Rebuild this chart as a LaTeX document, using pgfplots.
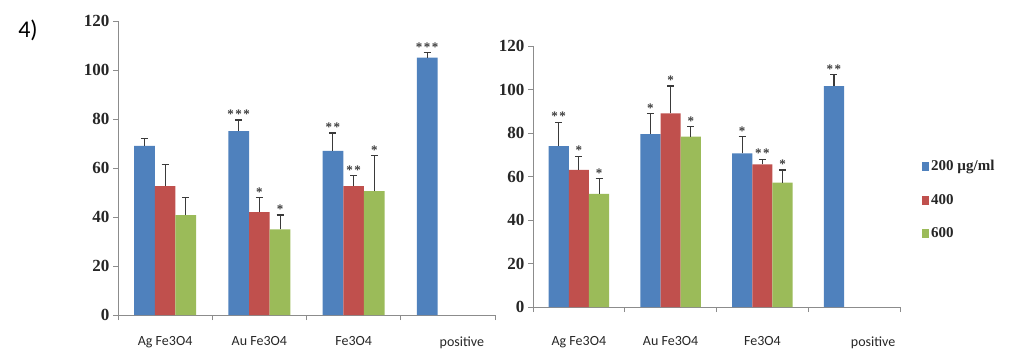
\documentclass[border=0pt]{standalone}
\usepackage{fontspec}
\setmainfont{Liberation Serif}
\newfontfamily\calfont{Carlito}
\usepackage{pgfplots}
\usepackage{pgfplotstable}
\pgfplotsset{compat=1.18}
\definecolor{cb}{HTML}{4F81BD}
\definecolor{cr}{HTML}{C0504D}
\definecolor{cg}{HTML}{9BBB59}
\definecolor{axg}{HTML}{8C8C8C}
\definecolor{errc}{HTML}{3A3A3A}
\definecolor{txt}{HTML}{262626}

\newcommand{\stA}{*}
\newcommand{\stB}{*\kern1.5pt*}
\newcommand{\stC}{*\kern1.5pt*\kern1.5pt*}

\pgfplotstableread{
x b be r re g ge
0 69 3.2 52.6 8.9 40.8 7.2
1 75 4.6 42 5.8 35 5.8
2 67 7.3 52.6 4.4 50.6 14.4
3 105 2 nan nan nan nan
}\leftdata

\pgfplotstableread{
x b be r re g ge
0 74 11 63 6.4 52 7
1 79.5 9.5 89 12.6 78.3 4.7
2 70.6 7.7 65.6 2.4 57.2 5.8
3 101.6 5.1 nan nan nan nan
}\rightdata

\pgfplotsset{
 excel/.style={
  scale only axis, ymin=0, ymax=120, ytick={0,20,...,120},
  xmin=-0.5, xmax=3.5, xtick={0,1,2,3},
  axis x line*=bottom, axis y line*=left,
  axis line style={axg, line width=0.8pt, -},
  major x tick style={draw=none},
  minor xtick={-0.5,0.5,1.5,2.5,3.5},
  minor x tick style={axg, line width=0.8pt},
  minor tick length=5pt,
  major tick length=5pt,
  y tick style={axg, line width=0.8pt},
  tick align=outside,
  /pgf/number format/assume math mode=true,
  yticklabel style={font=\bfseries\fontsize{17}{17}\selectfont, text=txt},
  xticklabel style={font=\calfont\fontsize{14}{14}\selectfont, text=txt},
  clip=false,
 },
 barb/.style={ybar, bar width=0.22, bar shift=0, draw=none,
   error bars/y dir=plus, error bars/y explicit,
   error bars/error bar style={errc, line width=1.1pt},
   error bars/error mark options={rotate=90, errc, mark size=3.5pt, line width=1.1pt}},
 lg/.style={legend image code/.code={\fill[##1] (0pt,-4.5pt) rectangle (7pt,4.5pt);}},
 stars/.style={draw=none, mark=none, forget plot, nodes near coords, point meta=explicit symbolic,
   nodes near coords style={anchor=south, inner sep=0pt, yshift=1pt, text=errc, font=\bfseries\fontsize{13}{13}\selectfont}},
}

\begin{document}
\begin{tikzpicture}
\useasboundingbox (0,0) rectangle (1019pt,351pt);
\node[font=\calfont\fontsize{24}{24}\selectfont] at (28pt,321pt) {4)};

\begin{axis}[excel, at={(118pt,36pt)}, anchor=south west, width=377pt, height=294pt,
  xticklabels={Ag Fe3O4, Au Fe3O4, Fe3O4, \hspace*{28pt}positive},
  xticklabel style={yshift=-13pt}]
\addplot[barb, fill=cb] table[x expr=\thisrow{x}-0.22, y=b, y error=be] {\leftdata};
\addplot[barb, fill=cr] table[x expr=\thisrow{x}, y=r, y error=re] {\leftdata};
\addplot[barb, fill=cg] table[x expr=\thisrow{x}+0.22, y=g, y error=ge] {\leftdata};
\addplot[stars] coordinates {
 (0.78,79.6) [\stC] (1,47.8) [\stA] (1.22,40.8) [\stA]
 (1.78,74.3) [\stB] (2,57) [\stB] (2.22,65) [\stA]
 (2.78,107) [\stC]
};
\end{axis}

\begin{axis}[excel, at={(533pt,44pt)}, anchor=south west, width=367pt, height=261pt,
  xticklabels={Ag Fe3O4, Au Fe3O4, Fe3O4, \hspace*{38pt}positive},
  xticklabel style={yshift=-21pt},
  legend style={at={(1.06,0.41)}, anchor=west, draw=none, fill=none,
    font=\bfseries\fontsize{15}{15}\selectfont, text=txt, row sep=22pt, inner sep=0pt,
    nodes={inner xsep=2pt, inner ysep=0pt}},
  legend cell align=left]
\addplot[barb, fill=cb, lg] table[x expr=\thisrow{x}-0.22, y=b, y error=be] {\rightdata};
\addlegendentry{200 µg/ml}
\addplot[barb, fill=cr, lg] table[x expr=\thisrow{x}, y=r, y error=re] {\rightdata};
\addlegendentry{400}
\addplot[barb, fill=cg, lg] table[x expr=\thisrow{x}+0.22, y=g, y error=ge] {\rightdata};
\addlegendentry{600}
\addplot[stars] coordinates {
 (-0.22,85) [\stB] (0,69.4) [\stA] (0.22,59) [\stA]
 (0.78,89) [\stA] (1,101.6) [\stA] (1.22,83) [\stA]
 (1.78,78.3) [\stA] (2,68) [\stB] (2.22,63) [\stA]
 (2.78,106.7) [\stB]
};
\end{axis}
\end{tikzpicture}
\end{document}
